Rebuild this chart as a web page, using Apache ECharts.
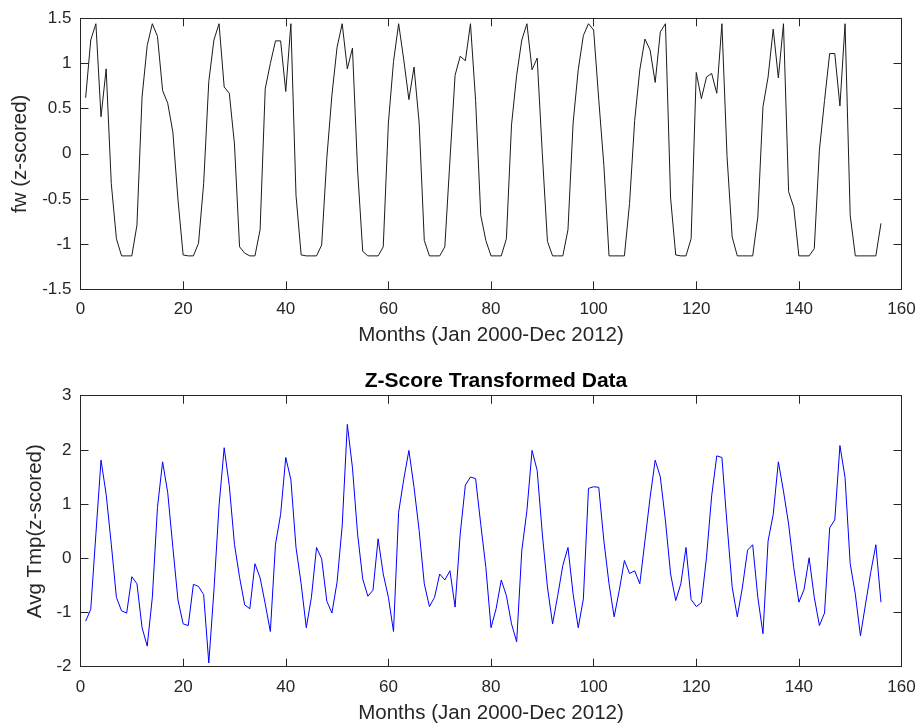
<!DOCTYPE html>
<html>
<head>
<meta charset="utf-8">
<script src="https://cdn.jsdelivr.net/npm/echarts@6/dist/echarts.min.js"></script>
<style>
html,body{margin:0;padding:0;background:#fff;}
#chart{width:921px;height:725px;}
</style>
</head>
<body>
<div id="chart"></div>
<script>
// Month index (Jan 2000 = 1 ... Dec 2012 = 156)
const monthCount = 156;
const months = Array.from({length: monthCount}, (_, i) => i + 1);

// Top panel: fw (z-scored)
const fwValues = [
  0.62, 1.26, 1.44, 0.41, 0.94, -0.33, -0.94, -1.13, -1.13, -1.13,
  -0.79, 0.63, 1.20, 1.44, 1.30, 0.70, 0.56, 0.24, -0.51, -1.12,
  -1.13, -1.13, -0.99, -0.33, 0.80, 1.26, 1.44, 0.74, 0.67, 0.11,
  -1.03, -1.10, -1.13, -1.13, -0.84, 0.72, 1.00, 1.25, 1.25, 0.69,
  1.44, -0.46, -1.12, -1.13, -1.13, -1.13, -1.01, -0.05, 0.65, 1.18,
  1.44, 0.94, 1.17, -0.18, -1.08, -1.13, -1.13, -1.13, -1.03, 0.34,
  1.02, 1.44, 1.04, 0.60, 0.96, 0.34, -0.96, -1.13, -1.13, -1.13,
  -1.03, -0.07, 0.87, 1.08, 1.03, 1.44, 0.59, -0.68, -0.96, -1.13,
  -1.13, -1.13, -0.94, 0.32, 0.87, 1.26, 1.44, 0.93, 1.06, 0.00,
  -0.97, -1.13, -1.13, -1.13, -0.84, 0.34, 0.93, 1.31, 1.44, 1.37,
  0.60, -0.13, -1.13, -1.13, -1.13, -1.13, -0.55, 0.37, 0.93, 1.27,
  1.15, 0.79, 1.35, 1.44, -0.49, -1.12, -1.13, -1.13, -0.94, 0.90,
  0.61, 0.85, 0.89, 0.67, 1.44, -0.03, -0.92, -1.13, -1.13, -1.13,
  -1.13, -0.70, 0.52, 0.85, 1.38, 0.84, 1.44, -0.42, -0.59, -1.13,
  -1.13, -1.13, -1.05, 0.04, 0.59, 1.11, 1.11, 0.53, 1.44, -0.68,
  -1.13, -1.13, -1.13, -1.13, -1.13, -0.77
];

// Bottom panel: Avg Tmp (z-scored)
const tmpValues = [
  -1.16, -0.94, 0.45, 1.81, 1.18, 0.26, -0.72, -0.97, -1.01, -0.34,
  -0.47, -1.28, -1.62, -0.72, 0.94, 1.78, 1.21, 0.20, -0.77, -1.21,
  -1.24, -0.48, -0.52, -0.67, -1.93, -0.60, 0.97, 2.04, 1.34, 0.26,
  -0.35, -0.86, -0.93, -0.10, -0.36, -0.84, -1.35, 0.26, 0.81, 1.86,
  1.45, 0.20, -0.47, -1.28, -0.72, 0.20, -0.01, -0.79, -1.01, -0.44,
  0.60, 2.47, 1.67, 0.45, -0.38, -0.70, -0.59, 0.36, -0.29, -0.72,
  -1.35, 0.85, 1.46, 1.99, 1.31, 0.51, -0.47, -0.89, -0.72, -0.29,
  -0.40, -0.23, -0.90, 0.45, 1.35, 1.50, 1.47, 0.63, -0.17, -1.28,
  -0.93, -0.40, -0.69, -1.21, -1.54, 0.14, 0.88, 1.99, 1.62, 0.45,
  -0.53, -1.21, -0.69, -0.13, 0.20, -0.66, -1.28, -0.75, 1.29, 1.32,
  1.31, 0.32, -0.47, -1.08, -0.59, -0.04, -0.28, -0.23, -0.47, 0.32,
  1.12, 1.81, 1.50, 0.69, -0.29, -0.78, -0.47, 0.20, -0.76, -0.89,
  -0.82, 0.02, 1.15, 1.89, 1.86, 0.63, -0.53, -1.08, -0.53, 0.15,
  0.25, -0.72, -1.39, 0.32, 0.81, 1.78, 1.24, 0.63, -0.17, -0.81,
  -0.58, 0.01, -0.72, -1.24, -1.01, 0.56, 0.71, 2.08, 1.49, -0.10,
  -0.66, -1.43, -0.84, -0.26, 0.25, -0.81
];

// Axis settings / labels
const xMin = 0, xMax = 160, xStep = 20;
const fwMin = -1.5, fwMax = 1.5, fwStep = 0.5;
const tmpMin = -2, tmpMax = 3, tmpStep = 1;
const xLabel = 'Months (Jan 2000-Dec 2012)';
const fwLabel = 'fw (z-scored)';
const tmpLabel = 'Avg Tmp(z-scored)';
const bottomTitle = 'Z-Score Transformed Data';

const AX = '#262626';
const FONT = '"Liberation Sans", Arial, Helvetica, sans-serif';

function pairs(vals){ return months.map((m, i) => [m, vals[i]]); }

function xAxisMain(gridIndex){
  return {
    type:'value', gridIndex, min:xMin, max:xMax, interval:xStep, position:'bottom',
    name:xLabel, nameLocation:'middle', nameGap:36,
    nameTextStyle:{color:AX, fontSize:20.5, fontFamily:FONT},
    axisLine:{show:true, onZero:false, lineStyle:{color:AX, width:1}},
    axisTick:{show:true, inside:true, length:8, lineStyle:{color:AX}},
    axisLabel:{color:AX, fontSize:17, fontFamily:FONT, margin:12},
    splitLine:{show:false}
  };
}
function xAxisTop(gridIndex){
  return {
    type:'value', gridIndex, min:xMin, max:xMax, interval:xStep, position:'top',
    axisLine:{show:true, onZero:false, lineStyle:{color:AX, width:1}},
    axisTick:{show:true, inside:true, length:8, lineStyle:{color:AX}},
    axisLabel:{show:false}, splitLine:{show:false}
  };
}
function yAxisMain(gridIndex, mn, mx, step, name, gap){
  return {
    type:'value', gridIndex, min:mn, max:mx, interval:step, position:'left',
    name, nameLocation:'middle', nameGap:gap, nameRotate:90,
    nameTextStyle:{color:AX, fontSize:20.5, fontFamily:FONT},
    axisLine:{show:true, onZero:false, lineStyle:{color:AX, width:1}},
    axisTick:{show:true, inside:true, length:8, lineStyle:{color:AX}},
    axisLabel:{color:AX, fontSize:17, fontFamily:FONT, margin:9},
    splitLine:{show:false}
  };
}
function yAxisRight(gridIndex, mn, mx, step){
  return {
    type:'value', gridIndex, min:mn, max:mx, interval:step, position:'right',
    axisLine:{show:true, onZero:false, lineStyle:{color:AX, width:1}},
    axisTick:{show:true, inside:true, length:8, lineStyle:{color:AX}},
    axisLabel:{show:false}, splitLine:{show:false}
  };
}

const chart = echarts.init(document.getElementById('chart'), null, {renderer:'canvas'});
chart.setOption({
  animation:false,
  backgroundColor:'#ffffff',
  title:[{
    text:bottomTitle, left:491, top:366, textAlign:'center',
    textStyle:{color:'#000', fontSize:21, fontWeight:'bold', fontFamily:FONT}
  }],
  grid:[
    {left:80.5, top:18.3, width:821, height:271},
    {left:80.5, top:395.7, width:821, height:271}
  ],
  xAxis:[xAxisMain(0), xAxisTop(0), xAxisMain(1), xAxisTop(1)],
  yAxis:[
    yAxisMain(0, fwMin, fwMax, fwStep, fwLabel, 50),
    yAxisRight(0, fwMin, fwMax, fwStep),
    yAxisMain(1, tmpMin, tmpMax, tmpStep, tmpLabel, 30),
    yAxisRight(1, tmpMin, tmpMax, tmpStep)
  ],
  series:[
    {type:'line', xAxisIndex:0, yAxisIndex:0, data:pairs(fwValues), showSymbol:false,
     lineStyle:{color:'#1a1a1a', width:1}},
    {type:'line', xAxisIndex:2, yAxisIndex:2, data:pairs(tmpValues), showSymbol:false,
     lineStyle:{color:'#0000ff', width:1}}
  ]
});
</script>
</body>
</html>
